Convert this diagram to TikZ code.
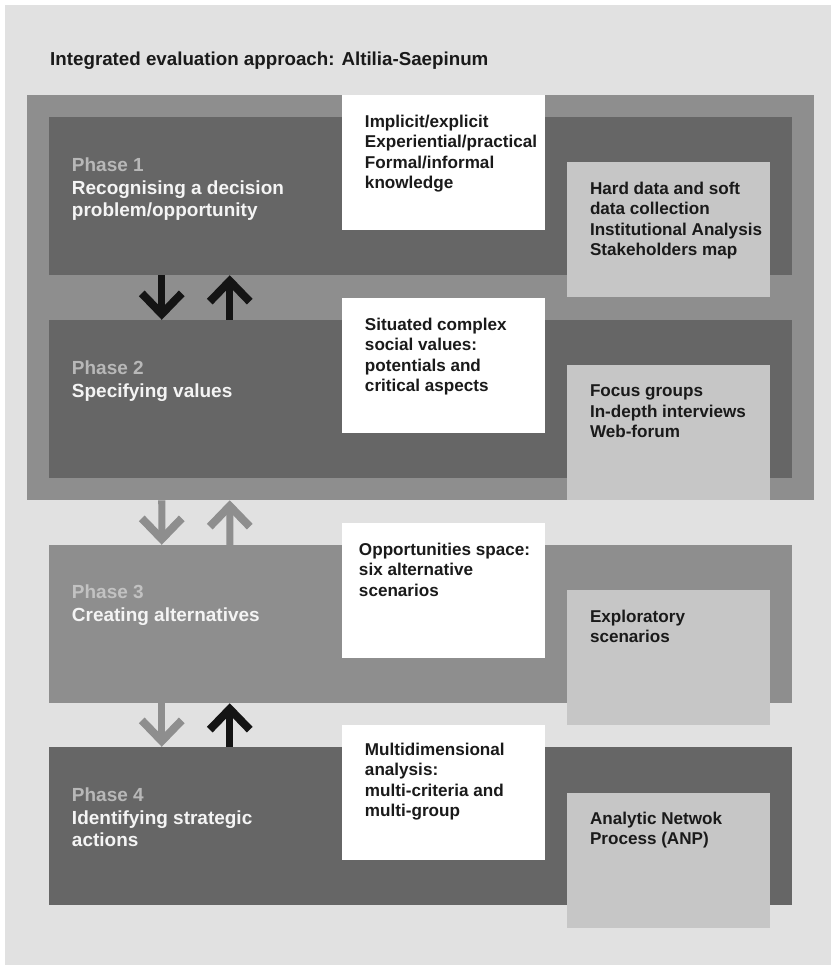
\documentclass[tikz,border=0pt]{standalone}
\usepackage{fontspec}
\setmainfont{Liberation Sans}
\usetikzlibrary{arrows.meta,calc}

\definecolor{paper}{HTML}{E1E1E1}
\definecolor{frame}{HTML}{8E8E8E}
\definecolor{dark}{HTML}{666666}
\definecolor{pale}{HTML}{C6C6C6}
\definecolor{ink}{HTML}{1A1A1A}
\definecolor{lbl}{HTML}{B8B8B8}
\definecolor{lblthree}{HTML}{C2C2C2}
\definecolor{ttl}{HTML}{F4F4F4}
\definecolor{arrk}{HTML}{141414}

\tikzset{
  phasebox/.style={draw=none, inner sep=0, minimum width=22.29cm, minimum height=4.74cm},
  notebox/.style={draw=none, inner sep=0, minimum width=6.09cm, minimum height=4.05cm},
  topline/.style={anchor=north west, align=left, inner sep=0,
    execute at begin node={\rule{0pt}{1em}}},
  phasetext/.style={topline, text=ttl,
    font=\fontsize{16.2}{19.2}\selectfont\bfseries},
  notetext/.style={topline, text=ink,
    font=\fontsize{14.6}{17.4}\selectfont\bfseries},
  bigarrow/.style={line width=0.21cm,
    -{Straight Barb[length=0.62cm, width=1.2cm, line width=0.24cm]}}
}

\begin{document}
\begin{tikzpicture}[x=0.03cm, y=-0.03cm]
\useasboundingbox (0,0) rectangle (831,969);
\fill[white] (0,0) rectangle (831,969);
\fill[paper] (5,5) rectangle (831,965);

\node[anchor=base west, inner sep=0, text=ink, font=\fontsize{16}{19}\selectfont\bfseries]
  (title) at (50,65) {Integrated evaluation approach: Altilia-Saepinum};

\node[draw=none, fill=frame, inner sep=0, minimum width=23.61cm, minimum height=12.15cm]
  (fr) at (420.5,297.5) {};

% phases
\node[phasebox, fill=dark]  (p1) at (420.5,196) {};
\node[phasebox, fill=dark]  (p2) at (420.5,399) {};
\node[phasebox, fill=frame] (p3) at (420.5,624) {};
\node[phasebox, fill=dark]  (p4) at (420.5,826) {};

\node[phasetext] (p1t) at ($(p1.north west)+(23,41)$)
  {{\color{lbl}Phase 1}\\Recognising a decision\\problem/opportunity};
\node[phasetext] (p2t) at ($(p2.north west)+(23,41)$)
  {{\color{lbl}Phase 2}\\Specifying values};
\node[phasetext] (p3t) at ($(p3.north west)+(23,40)$)
  {{\color{lblthree}Phase 3}\\Creating alternatives};
\node[phasetext] (p4t) at ($(p4.north west)+(23,41)$)
  {{\color{lbl}Phase 4}\\Identifying strategic\\actions};

% knowledge boxes (white)
\node[notebox, fill=white] (w1) at (443.5,162.5) {};
\node[notebox, fill=white] (w2) at (443.5,365.5) {};
\node[notebox, fill=white] (w3) at (443.5,590.5) {};
\node[notebox, fill=white] (w4) at (443.5,792.5) {};

\node[notetext] (w1t) at ($(w1.north west)+(23,20)$)
  {Implicit/explicit\\Experiential/practical\\Formal/informal\\knowledge};
\node[notetext] (w2t) at ($(w2.north west)+(23,20)$)
  {Situated complex\\social values:\\potentials and\\critical aspects};
\node[notetext] (w3t) at ($(w3.north west)+(17,20)$)
  {Opportunities space:\\six alternative\\scenarios};
\node[notetext] (w4t) at ($(w4.north west)+(23,18)$)
  {Multidimensional\\analysis:\\multi-criteria and\\multi-group};

% method boxes (grey)
\node[notebox, fill=pale] (m1) at (668.5,229.5) {};
\node[notebox, fill=pale] (m2) at (668.5,432.5) {};
\node[notebox, fill=pale] (m3) at (668.5,657.5) {};
\node[notebox, fill=pale] (m4) at (668.5,860.5) {};

\node[notetext] (m1t) at ($(m1.north west)+(23,20)$)
  {Hard data and soft\\data collection\\Institutional Analysis\\Stakeholders map};
\node[notetext] (m2t) at ($(m2.north west)+(23,20)$)
  {Focus groups\\In-depth interviews\\Web-forum};
\node[notetext] (m3t) at ($(m3.north west)+(23,20)$)
  {Exploratory\\scenarios};
\node[notetext] (m4t) at ($(m4.north west)+(23,19)$)
  {Analytic Netwok\\Process (ANP)};

% arrows between phases
\draw[bigarrow, arrk]  ($(p1.south west)+(113,0)$) -- ($(p2.north west)+(113,0)$);
\draw[bigarrow, arrk]  ($(p2.north west)+(181,0)$) -- ($(p1.south west)+(181,0)$);
\draw[bigarrow, frame] ($(fr.south west)+(135,0)$) -- ($(p3.north west)+(113,0)$);
\draw[bigarrow, frame] ($(p3.north west)+(181,0)$) -- ($(fr.south west)+(203,0)$);
\draw[bigarrow, frame] ($(p3.south west)+(113,0)$) -- ($(p4.north west)+(113,0)$);
\draw[bigarrow, arrk]  ($(p4.north west)+(181,0)$) -- ($(p3.south west)+(181,0)$);
\end{tikzpicture}
\end{document}
